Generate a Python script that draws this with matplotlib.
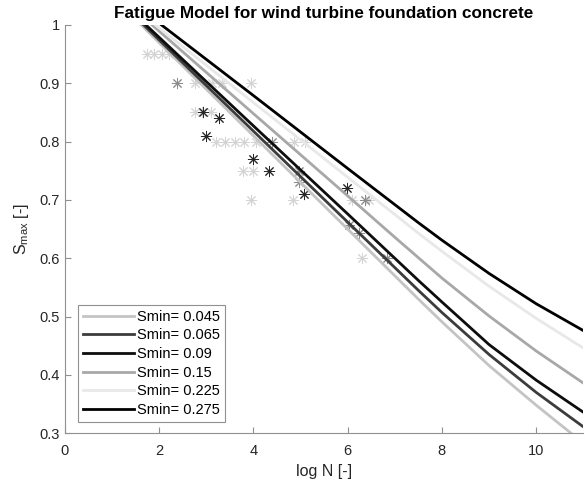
import matplotlib
matplotlib.use("Agg")
import matplotlib.pyplot as plt

plt.rcParams["font.family"] = ["Liberation Sans", "DejaVu Sans"]
plt.rcParams["mathtext.default"] = "regular"

# model curves (log N, Smax)
smin_labels = ["0.045", "0.065", "0.09", "0.15", "0.225", "0.275"]
logn_045 = [1.62, 4, 6, 7, 7.5, 8, 9, 10, 10.74, 11]
smax_045 = [1.0, 0.810, 0.650, 0.570, 0.530, 0.491, 0.416, 0.348, 0.300, 0.284]
logn_065 = [1.67, 4, 6, 7, 7.5, 8, 9, 10, 11]
smax_065 = [1.0, 0.818, 0.662, 0.584, 0.545, 0.507, 0.435, 0.370, 0.311]
logn_09 = [1.72, 4, 6, 7, 7.5, 8, 9, 10, 11]
smax_09 = [1.0, 0.827, 0.676, 0.600, 0.562, 0.525, 0.452, 0.391, 0.336]
logn_15 = [1.85, 4, 6, 7, 7.5, 8, 9, 10, 11]
smax_15 = [1.0, 0.848, 0.707, 0.636, 0.601, 0.566, 0.501, 0.441, 0.386]
logn_225 = [1.92, 4, 6, 7, 7.5, 8, 9, 10, 11]
smax_225 = [1.0, 0.867, 0.739, 0.675, 0.643, 0.612, 0.552, 0.497, 0.446]
logn_275 = [2.05, 4, 6, 7, 7.5, 8, 9, 10, 11]
smax_275 = [1.0, 0.879, 0.754, 0.692, 0.661, 0.631, 0.574, 0.522, 0.476]

# test results (asterisks), grouped by shade
dark_logn = [2.94, 3.26, 3.0, 4.0, 4.33, 5.07, 5.98]
dark_smax = [0.85, 0.84, 0.81, 0.77, 0.75, 0.71, 0.72]
mid_logn = [2.37, 4.4, 4.97, 4.97, 6.36, 6.03, 6.24, 6.83]
mid_smax = [0.90, 0.80, 0.75, 0.73, 0.70, 0.657, 0.643, 0.60]
light_logn = [1.75, 1.9, 2.05, 2.2, 2.75, 3.13, 3.34, 3.95, 2.75, 2.9, 3.1,
              3.2, 3.4, 3.6, 3.8, 4.05, 4.87, 5.1, 3.77, 4.0, 3.95, 4.84,
              6.09, 6.45, 6.3]
light_smax = [0.95, 0.95, 0.95, 0.95, 0.90, 0.90, 0.90, 0.90, 0.85, 0.85, 0.85,
              0.80, 0.80, 0.80, 0.80, 0.80, 0.80, 0.80, 0.75, 0.75, 0.70, 0.70,
              0.70, 0.70, 0.60]

x_ticks = [0, 2, 4, 6, 8, 10]
y_ticks = [0.3, 0.4, 0.5, 0.6, 0.7, 0.8, 0.9, 1.0]
y_ticklabels = ["0.3", "0.4", "0.5", "0.6", "0.7", "0.8", "0.9", "1"]

fig = plt.figure(figsize=(5.85, 4.9), dpi=100)
ax = fig.add_axes([0.111, 0.116, 0.886, 0.833])

star = (8, 2, 0)
ax.plot(light_logn, light_smax, ls="none", marker=star, ms=8, mew=0.7, color="#d4d4d4")
ax.plot(mid_logn, mid_smax, ls="none", marker=star, ms=8, mew=0.7, color="#8c8c8c")
ax.plot(dark_logn, dark_smax, ls="none", marker=star, ms=8, mew=0.7, color="#262626")

curves = [(logn_045, smax_045, "#c4c4c4"), (logn_065, smax_065, "#3c3c3c"),
          (logn_09, smax_09, "#0d0d0d"), (logn_15, smax_15, "#a8a8a8"),
          (logn_225, smax_225, "#e8e8e8"), (logn_275, smax_275, "#000000")]
for (xs, ys, c), lab in zip(curves, smin_labels):
    ax.plot(xs, ys, color=c, lw=2.0, label="Smin= " + lab)

ax.set_xlim(0, 11)
ax.set_ylim(0.3, 1.0)
ax.set_xticks(x_ticks)
ax.set_yticks(y_ticks)
ax.set_yticklabels(y_ticklabels)
ax.tick_params(direction="in", length=4, labelsize=10.5, colors="#262626")
ax.tick_params(axis="both", color="#909090")
ax.tick_params(axis="x", pad=8)
for side in ["top", "right"]:
    ax.spines[side].set_visible(False)
for side in ["left", "bottom"]:
    ax.spines[side].set_color("#909090")
ax.set_xlabel("log N [-]", fontsize=11.5, color="#262626", labelpad=4)
ax.set_ylabel("S$_{max}$ [-]", fontsize=11.5, color="#262626", labelpad=6)
ax.set_title("Fatigue Model for wind turbine foundation concrete",
             fontsize=12.3, fontweight="bold", pad=5)

leg = ax.legend(loc="lower left", bbox_to_anchor=(0.025, 0.027), borderaxespad=0,
                fancybox=False, edgecolor="#909090", fontsize=10.5,
                handlelength=3.5, handletextpad=0.2, labelspacing=0.32,
                borderpad=0.35, framealpha=1)
leg.get_frame().set_linewidth(0.8)

fig.savefig("out.png", dpi=100)
